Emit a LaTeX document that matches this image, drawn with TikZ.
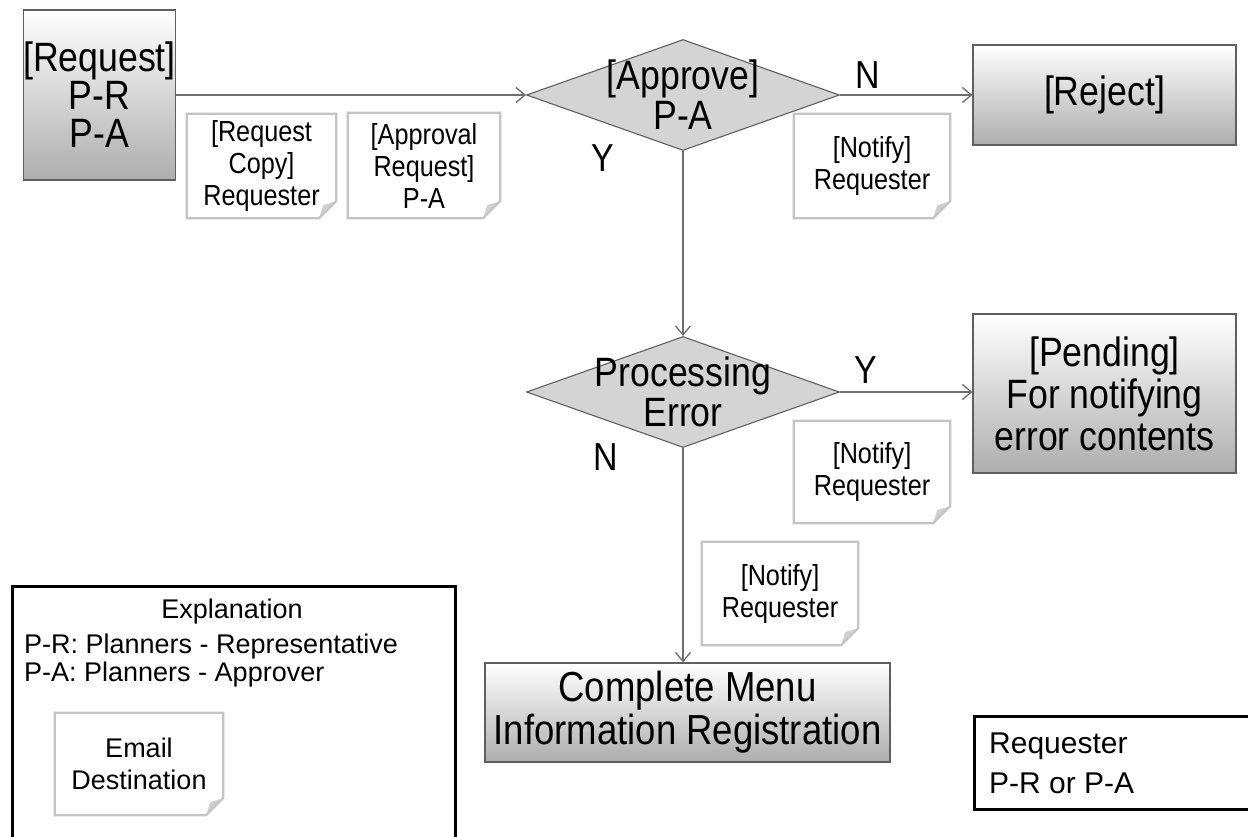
\documentclass[tikz,border=0pt]{standalone}
\usepackage{fontspec}
\setmainfont{Liberation Sans}
\newfontfamily\condfont[FakeStretch=0.87]{Liberation Sans}
\usetikzlibrary{shapes.geometric,arrows.meta}
\definecolor{edgec}{HTML}{5F5F5F}
\definecolor{notec}{HTML}{C4C4C4}
\definecolor{foldc}{HTML}{CFCFCF}
\definecolor{diamc}{HTML}{D4D4D4}
\definecolor{linec}{HTML}{6E6E6E}
\tikzset{
 procbox/.style={rectangle, draw=edgec, line width=1.3pt, top color=white, bottom color=black!32, inner sep=0pt, align=center, font=\condfont\fontsize{41}{40}\selectfont},
 decision/.style={diamond, draw=edgec, line width=1.1pt, fill=diamc, inner sep=0pt, minimum width=313pt, minimum height=111pt},
 dtext/.style={align=center, font=\condfont\fontsize{41}{40}\selectfont, inner sep=0pt},
 notebox/.style={rectangle, fill=white, inner sep=0pt, minimum width=150pt, minimum height=104pt, align=center, font=\condfont\fontsize{29}{32}\selectfont},
 yn/.style={font=\condfont\fontsize{39}{39}\selectfont, inner sep=0pt},
 flow/.style={draw=linec, line width=1.3pt, -{Straight Barb[length=9pt,width=15pt]}},
 keybox/.style={rectangle, draw=black, line width=3pt, inner sep=0pt, anchor=north west},
 keytext/.style={inner sep=0pt, font=\fontsize{27}{31}\selectfont},
}
\newcommand{\dogear}[1]{%
 \fill[foldc] ([yshift=17pt]#1.south east) -- ([xshift=-17pt]#1.south east) -- ([xshift=-13pt,yshift=13pt]#1.south east) -- cycle;
 \draw[notec, line width=2.2pt, line join=miter] (#1.north west) -- (#1.north east) -- ([yshift=17pt]#1.south east) -- ([xshift=-17pt]#1.south east) -- (#1.south west) -- cycle;
}
\begin{document}
\begin{tikzpicture}[x=1pt, y=-1pt]
\useasboundingbox (0,0) rectangle (1248,837);
\clip (0,0) rectangle (1248,837);
\fill[white] (0,0) rectangle (1248,837);

% process boxes
\node[procbox, minimum width=147pt, minimum height=170pt, font=\condfont\fontsize{41}{38}\selectfont] (req) at (99.5,95) {[Request]\\P-R\\P-A};
\node[procbox, minimum width=263pt, minimum height=100pt] (rej) at (1104.5,95) {[Reject]};
\node[procbox, minimum width=263pt, minimum height=159pt, font=\condfont\fontsize{41}{42}\selectfont] (pend) at (1104.5,393.5) {[Pending]\\For notifying\\error contents};
\node[procbox, minimum width=405pt, minimum height=99pt, font=\condfont\fontsize{42}{43}\selectfont] (comp) at (687.5,712.5) {Complete Menu\\Information Registration};

% decisions
\node[decision] (d1) at (683,95) {};
\node[dtext] (d1t) at (683,95) {[Approve]\\P-A};
\node[decision] (d2) at (683,392) {};
\node[dtext] (d2t) at (683,392) {Processing\\Error};

% connectors
\draw[flow] (req.east) -- (d1.west);
\draw[flow] (d1.east) -- (rej.west);
\draw[flow] (d1.south) -- (d2.north);
\draw[flow] (d2.east) -- (d2.east -| pend.west);
\draw[flow] (d2.south) -- (d2.south |- comp.north);

% Y / N labels
\node[yn] (n1) at (868,75) {N};
\node[yn] (y1) at (603,158) {Y};
\node[yn] (y2) at (866,370) {Y};
\node[yn] (n2) at (606,457) {N};

% email notes
\node[notebox, minimum width=149pt] (m1) at (261.5,166) {[Request\\Copy]\\Requester};
\dogear{m1}
\node[notebox, minimum width=152pt, minimum height=105pt] (m2) at (424,165.5) {[Approval\\Request]\\P-A};
\dogear{m2}
\node[notebox, minimum width=156pt] (m3) at (872,166) {[Notify]\\Requester};
\dogear{m3}
\node[notebox, minimum width=156pt, minimum height=102pt] (m4) at (872,472) {[Notify]\\Requester};
\dogear{m4}
\node[notebox, minimum width=156pt, minimum height=103pt] (m5) at (780,593.5) {[Notify]\\Requester};
\dogear{m5}

% legend
\node[keybox, minimum width=443pt, minimum height=300pt] (legend) at (11,585) {};
\node[keytext] (lt1) at (232,612) {Explanation};
\node[keytext, anchor=west] (lt2) at (24,647) {P-R: Planners - Representative};
\node[keytext, anchor=west] (lt3) at (24,675) {P-A: Planners - Approver};
\node[notebox, minimum width=168pt, minimum height=102pt, font=\fontsize{27}{32}\selectfont] (lnote) at (139,764) {Email\\Destination};
\dogear{lnote}

\node[keybox, minimum width=300pt, minimum height=93pt] (rkey) at (973,715) {};
\node[keytext, anchor=west, align=left, font=\fontsize{30}{40}\selectfont] (rkt) at (989,763) {Requester\\P-R or P-A};
\end{tikzpicture}
\end{document}
